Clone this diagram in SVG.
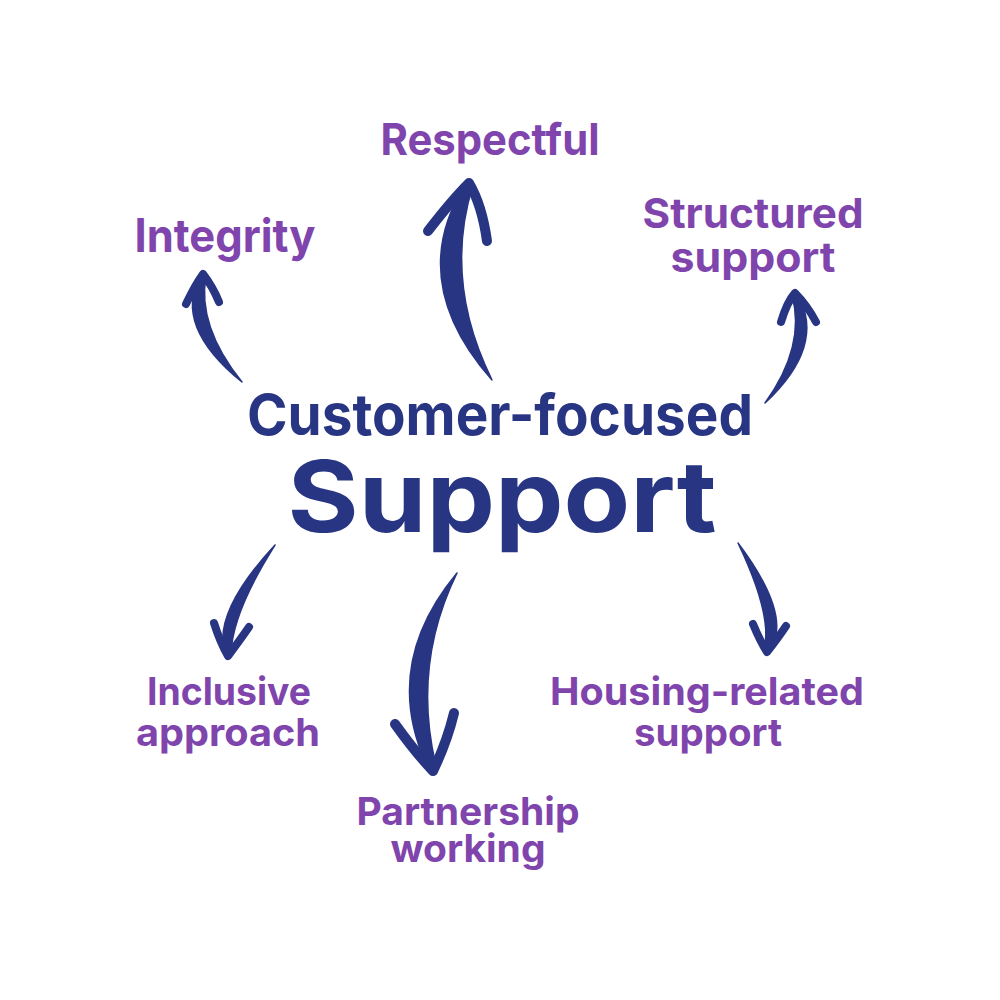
<svg xmlns="http://www.w3.org/2000/svg" width="1000" height="1000" viewBox="0 0 1000 1000">
<style>
.lbl{font-family:Inter,Lato,"Noto Sans","Liberation Sans",sans-serif;font-weight:700;fill:#7f45ad;text-anchor:middle}
.title{font-family:Inter,Lato,"Noto Sans","Liberation Sans",sans-serif;font-weight:700;fill:#283583;text-anchor:middle}
.shaft{fill:#283583;stroke:#283583;stroke-width:1.5;stroke-linejoin:round}
.barb{fill:none;stroke:#283583;stroke-linecap:round;stroke-linejoin:round}
</style>
<rect width="1000" height="1000" fill="#ffffff"/>
<g id="connectors">
  <g id="arrow-respectful">
    <path class="shaft" d="M492,380 Q405,281 465,185 L473,185 Q443,281 492,380 Z"/>
    <path class="barb" stroke-width="10" d="M428,231 Q452,200 469,183 Q482,205 487,241"/>
  </g>
  <g id="arrow-integrity">
    <path class="shaft" d="M242,382 Q173,326 200,276 L206,276 Q197,326 242,382 Z"/>
    <path class="barb" stroke-width="8" d="M186,304 Q195,285 203,274 Q213,287 219,302"/>
  </g>
  <g id="arrow-structured">
    <path class="shaft" d="M765,403 Q806,346 792,295 L798,295 Q826,346 765,403 Z"/>
    <path class="barb" stroke-width="8" d="M781,322 Q787,302 795,293 Q807,305 816,322"/>
  </g>
  <g id="arrow-inclusive">
    <path class="shaft" d="M275,545 Q212,613 225,654 L231,654 Q232,613 275,545 Z"/>
    <path class="barb" stroke-width="8" d="M214,623 Q220,642 228,656 Q240,640 249,627"/>
  </g>
  <g id="arrow-partnership">
    <path class="shaft" d="M457,573 Q379,667 429,770 L437,770 Q411,667 457,573 Z"/>
    <path class="barb" stroke-width="10" d="M395,724 Q415,752 433,771 Q447,742 454,713"/>
  </g>
  <g id="arrow-housing">
    <path class="shaft" d="M738,543 Q773,616 764,650 L770,650 Q793,616 738,543 Z"/>
    <path class="barb" stroke-width="8" d="M753,624 Q760,641 767,652 Q778,638 786,626"/>
  </g>
</g>
<g id="center">
  <text class="title" x="500" y="435" font-size="57" textLength="506" lengthAdjust="spacingAndGlyphs">Customer-focused</text>
  <text class="title" x="502" y="532" font-size="99" textLength="429" lengthAdjust="spacingAndGlyphs">Support</text>
</g>
<g id="node-respectful"><text class="lbl" x="490" y="155" font-size="44" textLength="219" lengthAdjust="spacingAndGlyphs">Respectful</text></g>
<g id="node-integrity"><text class="lbl" x="225" y="252" font-size="46" textLength="181" lengthAdjust="spacingAndGlyphs">Integrity</text></g>
<g id="node-structured">
  <text class="lbl" x="753" y="228" font-size="41" textLength="221" lengthAdjust="spacingAndGlyphs">Structured</text>
  <text class="lbl" x="753" y="272" font-size="41" textLength="165" lengthAdjust="spacingAndGlyphs">support</text>
</g>
<g id="node-inclusive">
  <text class="lbl" x="229" y="705" font-size="38" textLength="164" lengthAdjust="spacingAndGlyphs">Inclusive</text>
  <text class="lbl" x="228" y="746" font-size="38" textLength="184" lengthAdjust="spacingAndGlyphs">approach</text>
</g>
<g id="node-partnership">
  <text class="lbl" x="468" y="825" font-size="38" textLength="223" lengthAdjust="spacingAndGlyphs">Partnership</text>
  <text class="lbl" x="468" y="862" font-size="38" textLength="155" lengthAdjust="spacingAndGlyphs">working</text>
</g>
<g id="node-housing">
  <text class="lbl" x="707" y="705" font-size="38" textLength="314" lengthAdjust="spacingAndGlyphs">Housing-related</text>
  <text class="lbl" x="708" y="746" font-size="38" textLength="148" lengthAdjust="spacingAndGlyphs">support</text>
</g>
</svg>
